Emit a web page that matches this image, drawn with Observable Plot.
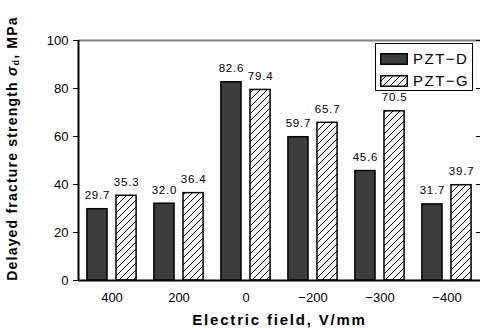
<!DOCTYPE html>
<html><head><meta charset="utf-8">
<script src="https://cdn.jsdelivr.net/npm/d3@7"></script>
<script src="https://cdn.jsdelivr.net/npm/@observablehq/plot@0.6"></script>
<style>
body{margin:0;background:#fff;}
#chart{position:relative;width:480px;height:328px;font-family:"Liberation Sans",Arial,sans-serif;}
#chart svg{display:block;}
g[aria-label="text"] text{letter-spacing:0.8px;}
#legend{position:absolute;left:375px;top:43px;width:96px;height:46px;border:1.5px solid #000;background:#fff;box-sizing:content-box;}
.lg{position:absolute;left:4px;display:flex;align-items:center;font-size:15px;letter-spacing:1.5px;color:#000;}
.lg svg{margin-right:5px;}
</style></head>
<body><div id="chart"></div>
<script>
const fields = ["400", "200", "0", "\u2212200", "\u2212300", "\u2212400"];
const series = ["PZT\u2212D", "PZT\u2212G"];
const pztD = [29.7, 32.0, 82.6, 59.7, 45.6, 31.7];
const pztG = [35.3, 36.4, 79.4, 65.7, 70.5, 39.7];
const yTicks = [0, 20, 40, 60, 80, 100];

const data = fields.flatMap((f, i) => [
  {i, field: f, series: series[0], side: -1, value: pztD[i]},
  {i, field: f, series: series[1], side: 1, value: pztG[i]}
]);
const barW = 0.3, gap = 0.134;
const x1 = d => d.side < 0 ? d.i - gap / 2 - barW : d.i + gap / 2;
const x2 = d => d.side < 0 ? d.i - gap / 2 : d.i + gap / 2 + barW;
const xc = d => (x1(d) + x2(d)) / 2;

const xTitle = "Electric field, V/mm";

const chart = Plot.plot({
  width: 480, height: 328,
  marginLeft: 78, marginRight: 0, marginTop: 40, marginBottom: 48,
  style: {fontFamily: '"Liberation Sans", Arial, sans-serif', fontSize: "13px", background: "#fff", color: "#000"},
  x: {domain: [-0.5, 5.5]},
  y: {domain: [0, 100]},
  color: {domain: series, range: ["#3d3d3d", "url(#hatch)"]},
  marks: [
    Plot.rectY(data, {x1, x2, y: "value", fill: "series", stroke: "#000", strokeWidth: 1.5}),
    Plot.text(data, {x: xc, y: "value", text: d => d.value.toFixed(1), dy: -10, lineAnchor: "bottom", fontSize: 11.5}),
    Plot.ruleY([100], {stroke: "#808080", strokeWidth: 2}),
    Plot.ruleY([0], {stroke: "#000", strokeWidth: 2}),
    Plot.ruleX([-0.5], {stroke: "#000", strokeWidth: 2}),
    Plot.axisY({anchor: "left", ticks: yTicks, tickSize: 5, tickPadding: 5, fontSize: 13,
      label: "Delayed fracture strength \u03c3d, MPa", labelAnchor: "center", labelOffset: 71}),
    Plot.axisY({anchor: "right", ticks: yTicks, tickSize: -5, tickFormat: () => "", label: null}),
    Plot.axisX({ticks: d3.range(fields.length), tickFormat: i => fields[i], tickSize: 0, tickPadding: 12, fontSize: 13,
      label: xTitle, labelAnchor: "center", labelOffset: 44})
  ]
});

// hatch pattern
const ns = "http://www.w3.org/2000/svg";
const defs = document.createElementNS(ns, "defs");
defs.innerHTML = '<pattern id="hatch" patternUnits="userSpaceOnUse" width="7" height="7"><rect width="7" height="7" fill="#fff"/><path d="M-1,1 L1,-1 M0,7 L7,0 M6,8 L8,6" stroke="#000" stroke-width="1"/></pattern>';
chart.insertBefore(defs, chart.firstChild);

// style axis labels (bold, subscript)
chart.querySelectorAll('g[aria-label="y-axis label"] text, g[aria-label="x-axis label"] text').forEach(t => {
  t.setAttribute("font-weight", "bold");
});
const yl = chart.querySelector('g[aria-label="y-axis label"] text');
if (yl) {
  yl.setAttribute("font-size", "14px");
  yl.style.letterSpacing = "1.2px";
  yl.textContent = "";
  const parts = [["Delayed fracture strength ", {"dx": "12"}], ["\u03c3", {"font-style": "italic"}], ["d", {"font-size": "9px", "dy": "2"}], [", MPa", {"dy": "-2"}]];
  for (const [s, a] of parts) {
    const ts = document.createElementNS(ns, "tspan");
    ts.textContent = s;
    for (const k in a) ts.setAttribute(k, a[k]);
    yl.appendChild(ts);
  }
}
const xl = chart.querySelector('g[aria-label="x-axis label"] text');
if (xl) { xl.textContent = xTitle; xl.setAttribute("font-size", "15px"); xl.style.letterSpacing = "1.8px"; }

const root = document.getElementById("chart");
root.appendChild(chart);

// legend
const legend = document.createElement("div");
legend.id = "legend";
series.forEach((s, k) => {
  const row = document.createElement("div");
  row.className = "lg";
  row.style.top = (k === 0 ? 6 : 28) + "px";
  row.innerHTML = `<svg width="28" height="12"><defs><pattern id="lh" patternUnits="userSpaceOnUse" width="7" height="7"><rect width="7" height="7" fill="#fff"/><path d="M-1,1 L1,-1 M0,7 L7,0 M6,8 L8,6" stroke="#000" stroke-width="1"/></pattern></defs><rect x="0.75" y="0.75" width="26.5" height="10.5" fill="${k === 0 ? "#3d3d3d" : "url(#lh)"}" stroke="#000" stroke-width="1.5"/></svg><span>${s}</span>`;
  legend.appendChild(row);
});
root.appendChild(legend);
</script>
</body></html>
